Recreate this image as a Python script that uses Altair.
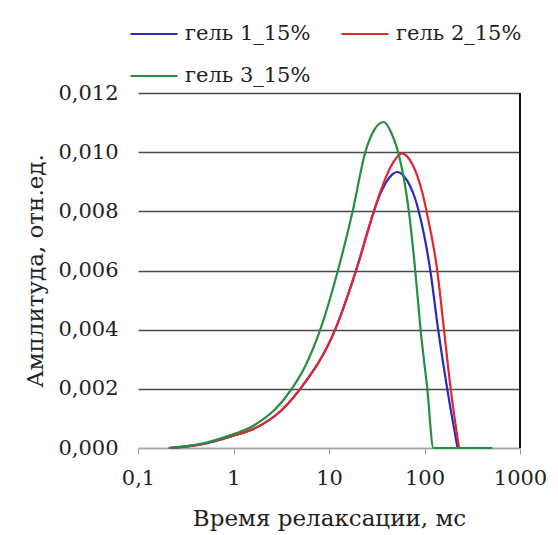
import altair as alt
import pandas as pd

series_names = ["гель 1_15%", "гель 2_15%", "гель 3_15%"]
series_colors = ["#2a2ab8", "#e3262e", "#22903e"]

# гель 1_15% (blue)
t1 = [0.21, 0.5, 1.0, 1.55, 2.0, 2.73, 5.0, 11.6, 19.2, 29.5, 34, 40, 46, 51.6, 60.3, 70.8, 79.4, 87, 115, 139, 173, 222]
v1 = [0.0, 0.00015, 0.00042, 0.00062, 0.00080, 0.00109, 0.0020, 0.0040, 0.0060, 0.0080, 0.00855, 0.00900, 0.00925, 0.00933, 0.00920, 0.00885, 0.00845, 0.0080, 0.0060, 0.0040, 0.0020, 0.0]
# гель 2_15% (red)
t2 = [0.21, 0.5, 1.0, 1.55, 2.0, 2.73, 5.0, 11.6, 19.2, 29.5, 34, 40, 48, 58.3, 70.8, 85, 95.5, 105, 136, 160, 188, 230]
v2 = [0.0, 0.00015, 0.00042, 0.00062, 0.00080, 0.00109, 0.0020, 0.0040, 0.0060, 0.0080, 0.00860, 0.00920, 0.00970, 0.00996, 0.00972, 0.00915, 0.00860, 0.0080, 0.0060, 0.0040, 0.0020, 0.0]
# гель 3_15% (green)
t3 = [0.21, 0.5, 1.0, 1.55, 2.0, 2.73, 4.07, 5.6, 8.1, 12.4, 17.7, 24, 30, 37.5, 45, 53, 68.6, 80, 91, 107, 124, 514]
v3 = [0.0, 0.00017, 0.00047, 0.00072, 0.00095, 0.00131, 0.0020, 0.00275, 0.0040, 0.0060, 0.0080, 0.0100, 0.01077, 0.01102, 0.01065, 0.0100, 0.0080, 0.0060, 0.0040, 0.0020, 0.0, 0.0]

x_ticks = [0.1, 1, 10, 100, 1000]
y_ticks = [0.0, 0.002, 0.004, 0.006, 0.008, 0.010, 0.012]
border_t = [1000]
border_lo = [0.0]
border_hi = [0.012]

rows = []
for name, ts, vs in zip(series_names, [t1, t2, t3], [v1, v2, v3]):
    for i, (t, v) in enumerate(zip(ts, vs)):
        rows.append({"series": name, "t": t, "v": v, "idx": i})
df = pd.DataFrame(rows)
border = pd.DataFrame({"t": border_t, "lo": border_lo, "hi": border_hi})

FONT = "DejaVu Serif"
TXT = "#222222"

x_enc = alt.X(
    "t:Q",
    scale=alt.Scale(type="log", domain=[0.1, 1000]),
    axis=alt.Axis(
        values=x_ticks,
        labelExpr="replace(format(datum.value, '~g'), '.', ',')",
        title="Время релаксации, мс",
        grid=False,
        domainColor="#a8a8a8",
        domainWidth=1.5,
        tickColor="#9a9a9a",
        tickSize=6,
        labelPadding=13,
        titlePadding=19,
        labelFlush=False,
    ),
)

y_enc = alt.Y(
    "v:Q",
    scale=alt.Scale(domain=[0, 0.012], nice=False),
    axis=alt.Axis(
        values=y_ticks,
        labelExpr="replace(format(datum.value, '.3f'), '.', ',')",
        title="Амплитуда, отн.ед.",
        grid=True,
        gridColor={"condition": {"test": "datum.value === 0", "value": "#a8a8a8"}, "value": "#4a4a4a"},
        gridWidth=1.5,
        domain=False,
        ticks=False,
        tickSize=0,
        labelPadding=20,
        titlePadding=10,
    ),
)

lines = alt.Chart(df).mark_line(strokeWidth=2.2, interpolate="monotone").encode(
    x=x_enc,
    y=y_enc,
    color=alt.Color(
        "series:N",
        scale=alt.Scale(domain=series_names, range=series_colors),
        legend=alt.Legend(
            title=None,
            orient="none",
            direction="horizontal",
            legendX=-9,
            legendY=-84,
            columns=2,
            columnPadding=26,
            rowPadding=7,
            symbolType="stroke",
            symbolSize=2209,
            symbolStrokeWidth=2.2,
            labelOffset=6,
            labelFontSize=21,
            labelFont=FONT,
            labelColor=TXT,
            padding=0,
        ),
    ),
    order="idx:Q",
)

edge = alt.Chart(border).mark_rule(color="#111111", strokeWidth=2).encode(
    x="t:Q",
    y="lo:Q",
    y2="hi:Q",
)

chart = (
    alt.layer(lines, edge)
    .properties(
        width=382,
        height=355,
        autosize=alt.AutoSizeParams(type="none"),
        padding={"left": 138, "top": 93, "right": 38, "bottom": 87},
        background="white",
    )
    .configure_view(stroke=None)
    .configure_axis(
        labelFont=FONT,
        labelFontSize=21,
        labelColor=TXT,
        titleFont=FONT,
        titleFontSize=23,
        titleFontWeight="normal",
        titleColor=TXT,
    )
)

chart.save("out.html", embed_options={"renderer": "svg", "actions": False})
